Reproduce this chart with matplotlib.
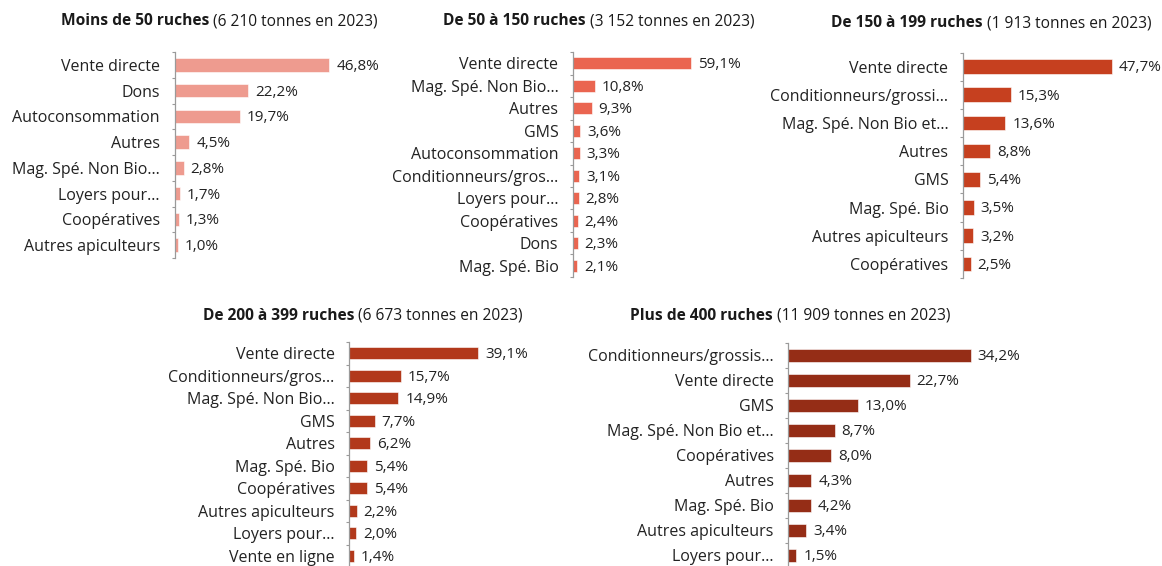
import matplotlib
matplotlib.use("Agg")
import matplotlib.pyplot as plt

W, H = 1162, 566
FONT = "Open Sans"

TITLES_BOLD = [
    "Moins de 50 ruches",
    "De 50 à 150 ruches",
    "De 150 à 199 ruches",
    "De 200 à 399 ruches",
    "Plus de 400 ruches",
]
TITLES_REST = [
    " (6 210 tonnes en 2023)",
    " (3 152 tonnes en 2023)",
    " (1 913 tonnes en 2023)",
    " (6 673 tonnes en 2023)",
    " (11 909 tonnes en 2023)",
]

CATS_1 = ["Vente directe", "Dons", "Autoconsommation", "Autres",
          "Mag. Spé. Non Bio…", "Loyers pour…", "Coopératives", "Autres apiculteurs"]
VALS_1 = [46.8, 22.2, 19.7, 4.5, 2.8, 1.7, 1.3, 1.0]

CATS_2 = ["Vente directe", "Mag. Spé. Non Bio…", "Autres", "GMS", "Autoconsommation",
          "Conditionneurs/gros…", "Loyers pour…", "Coopératives", "Dons", "Mag. Spé. Bio"]
VALS_2 = [59.1, 10.8, 9.3, 3.6, 3.3, 3.1, 2.8, 2.4, 2.3, 2.1]

CATS_3 = ["Vente directe", "Conditionneurs/grossi…", "Mag. Spé. Non Bio et…", "Autres",
          "GMS", "Mag. Spé. Bio", "Autres apiculteurs", "Coopératives"]
VALS_3 = [47.7, 15.3, 13.6, 8.8, 5.4, 3.5, 3.2, 2.5]

CATS_4 = ["Vente directe", "Conditionneurs/gros…", "Mag. Spé. Non Bio…", "GMS", "Autres",
          "Mag. Spé. Bio", "Coopératives", "Autres apiculteurs", "Loyers pour…", "Vente en ligne"]
VALS_4 = [39.1, 15.7, 14.9, 7.7, 6.2, 5.4, 5.4, 2.2, 2.0, 1.4]

CATS_5 = ["Conditionneurs/grossis…", "Vente directe", "GMS", "Mag. Spé. Non Bio et…",
          "Coopératives", "Autres", "Mag. Spé. Bio", "Autres apiculteurs", "Loyers pour…"]
VALS_5 = [34.2, 22.7, 13.0, 8.7, 8.0, 4.3, 4.2, 3.4, 1.5]

COLORS = ["#EE9B8F", "#EA6550", "#C6401F", "#B2391B", "#952D16"]

# panel geometry in pixels: axis x, top y, bottom y, px per %, title left x, title y
PANELS = [
    (174.5, 52, 258, 3.31, 61, 21),
    (573, 52, 277, 2.0, 443, 21),
    (963, 52.5, 278, 3.12, 831, 23),
    (349.3, 342, 567, 3.30, 203, 316),
    (788.3, 342.5, 567.5, 5.34, 630, 316),
]

DATA = [(CATS_1, VALS_1), (CATS_2, VALS_2), (CATS_3, VALS_3), (CATS_4, VALS_4), (CATS_5, VALS_5)]

TEXT = "#222222"
AXIS = "#9a9a9a"
FS = 11.5


def fmt(v):
    return f"{v:.1f}".replace(".", ",") + "%"


def main() -> None:
    fig = plt.figure(figsize=(W / 100, H / 100), dpi=100)
    plt.rcParams["font.family"] = [FONT, "DejaVu Sans"]

    for (cats, vals), color, geo, tb, tr in zip(DATA, COLORS, PANELS, TITLES_BOLD, TITLES_REST):
        x0, ytop, ybot, scale, tx, ty = geo
        width_px = 200
        ax = fig.add_axes([x0 / W, 1 - ybot / H, width_px / W, (ybot - ytop) / H])
        n = len(cats)
        pos = list(range(n))
        ax.barh(pos, vals, height=0.52, color=color, edgecolor="white", linewidth=0.4)
        ax.set_xlim(0, width_px / scale)
        ax.set_ylim(n - 0.5, -0.5)
        ax.set_yticks(pos)
        ax.set_yticklabels(cats, fontsize=FS, color=TEXT)
        ax.set_yticks([i - 0.5 for i in range(n + 1)], minor=True)
        ax.tick_params(axis="y", which="major", length=0, pad=10.5)
        ax.tick_params(axis="y", which="minor", length=2.5, width=0.8, color=AXIS)
        ax.set_xticks([])
        for side in ("top", "right", "bottom"):
            ax.spines[side].set_visible(False)
        ax.spines["left"].set_color(AXIS)
        ax.spines["left"].set_linewidth(0.9)
        ax.patch.set_alpha(0)
        for p, v in zip(pos, vals):
            ax.annotate(fmt(v), xy=(v, p), xytext=(5, -1), textcoords="offset points",
                        va="center", ha="left", fontsize=11, color=TEXT)

        bold = fig.text(tx / W, 1 - ty / H, tb, fontsize=11.2, fontweight="bold",
                        color="#1a1a1a", va="center", ha="left")
        plt.annotate(tr, xy=(1, 0.5), xycoords=bold, va="center", ha="left",
                     fontsize=11.2, color="#1a1a1a", annotation_clip=False)

    fig.savefig("out.png", dpi=100)


if __name__ == "__main__":
    main()
